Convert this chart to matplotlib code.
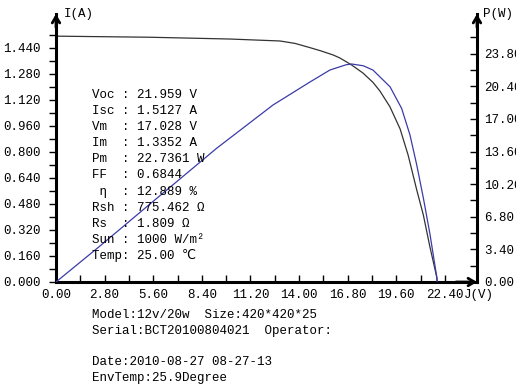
import numpy as np
import matplotlib
matplotlib.use("Agg")
from matplotlib import pyplot as plt
from matplotlib.ticker import FixedLocator

# I-V curve (black)
volt_iv = [0.0, 5.41, 10.02, 12.90, 13.77, 14.63, 15.26, 15.96, 16.36, 17.028, 17.68, 18.26,
           18.66, 19.24, 19.82, 20.28, 20.78, 21.16, 21.54, 21.93, 21.959]
current = [1.5127, 1.506, 1.495, 1.483, 1.468, 1.442, 1.422, 1.397, 1.378, 1.3352, 1.286, 1.228,
           1.175, 1.077, 0.942, 0.782, 0.566, 0.412, 0.215, 0.031, 0.0]

# P-V curve (blue)
volt_pv = [0.0, 2.53, 5.41, 9.27, 12.50, 14.63, 15.78, 16.36, 16.70, 17.028, 17.70, 18.26,
           19.24, 19.91, 20.39, 20.78, 21.16, 21.54, 21.93, 21.959]
power = [0.0, 3.75, 8.13, 13.97, 18.46, 20.86, 22.11, 22.45, 22.65, 22.7361, 22.55, 22.10,
         20.36, 18.10, 15.33, 12.20, 8.76, 5.00, 0.55, 0.0]

i_ticks = [0.0, 0.16, 0.32, 0.48, 0.64, 0.80, 0.96, 1.12, 1.28, 1.44]
p_ticks = [0.0, 3.4, 6.8, 10.2, 13.6, 17.0, 20.4, 23.8]
v_ticks = [0.0, 2.8, 5.6, 8.4, 11.2, 14.0, 16.8, 19.6, 22.4]

params = ["Voc : 21.959 V", "Isc : 1.5127 A", "Vm  : 17.028 V", "Im  : 1.3352 A",
          "Pm  : 22.7361 W", "FF  : 0.6844", " \u03b7  : 12.889 %", "Rsh : 775.462 \u03a9",
          "Rs  : 1.809 \u03a9", "Sun : 1000 W/m\u00b2", "Temp: 25.00 \u2103"]
footer = ["Model:12v/20w  Size:420*420*25", "Serial:BCT20100804021  Operator:", "",
          "Date:2010-08-27 08-27-13", "EnvTemp:25.9Degree"]

plt.rcParams["font.family"] = ["Liberation Mono", "DejaVu Sans Mono", "DejaVu Sans"]
plt.rcParams["font.size"] = 9

W, H = 516, 388
x0, x1, y0, y1 = 56, 477, 282, 14
fig = plt.figure(figsize=(W / 100, H / 100), dpi=100)
ax = fig.add_axes([x0 / W, 1 - y0 / H, (x1 - x0) / W, (y0 - y1) / H])
ax2 = ax.twinx()

ax.set_xlim(0, 24.25)
ax.set_ylim(0, 1.649)
ax2.set_ylim(0, 27.95)

ax.plot(volt_iv, current, color="#333333", lw=0.9)
ax2.plot(volt_pv, power, color="#3b3ba8", lw=0.9)

for a in (ax, ax2):
    a.spines["top"].set_visible(False)
    for s in a.spines.values():
        s.set_linewidth(2.2)
ax.spines["right"].set_visible(False)
ax2.spines["left"].set_visible(False)
ax2.spines["bottom"].set_visible(False)

ax.xaxis.set_major_locator(FixedLocator(v_ticks))
ax.xaxis.set_minor_locator(FixedLocator(list(np.arange(1.4, 22.5, 2.8))))
ax.set_xticklabels(["%.2f" % v for v in v_ticks])
ax.yaxis.set_major_locator(FixedLocator(i_ticks))
ax.yaxis.set_minor_locator(FixedLocator(list(np.arange(0.08, 1.53, 0.16))))
ax.set_yticklabels(["%.3f" % v for v in i_ticks])
ax2.yaxis.set_major_locator(FixedLocator(p_ticks))
ax2.yaxis.set_minor_locator(FixedLocator(list(np.arange(1.7, 25.6, 3.4))))
ax2.set_yticklabels(["%.2f" % v for v in p_ticks])

ax.tick_params(axis="x", which="both", direction="in", length=5, width=1, pad=5, labelsize=9)
ax.tick_params(axis="y", which="both", direction="out", length=5, width=1, pad=6, labelsize=9)
ax2.tick_params(axis="y", which="both", direction="in", length=5, width=1, pad=5, labelsize=9)

# axis arrows
arr = dict(arrowstyle="->,head_length=0.5,head_width=0.3", lw=2, color="black", shrinkA=0, shrinkB=0)
ax.annotate("", xy=(0, 1.0), xytext=(0, 0.95), xycoords="axes fraction", arrowprops=arr, annotation_clip=False)
ax.annotate("", xy=(1, 1.0), xytext=(1, 0.95), xycoords="axes fraction", arrowprops=arr, annotation_clip=False)
ax.annotate("", xy=(1.0, 0), xytext=(0.95, 0), xycoords="axes fraction", arrowprops=arr, annotation_clip=False)

fig.text(64 / W, 1 - 14 / H, "I(A)", va="center", ha="left", fontsize=9)
fig.text(483 / W, 1 - 14 / H, "P(W)", va="center", ha="left", fontsize=9)
fig.text(464 / W, 1 - 295 / H, "J(V)", va="center", ha="left", fontsize=9)

for i, line in enumerate(params):
    fig.text(92 / W, 1 - (95 + i * 16.1) / H, line, va="center", ha="left", fontsize=9)

for i, line in enumerate(footer):
    fig.text(92 / W, 1 - (315 + i * 15.7) / H, line, va="center", ha="left", fontsize=9)

fig.savefig("out.png", dpi=100)
